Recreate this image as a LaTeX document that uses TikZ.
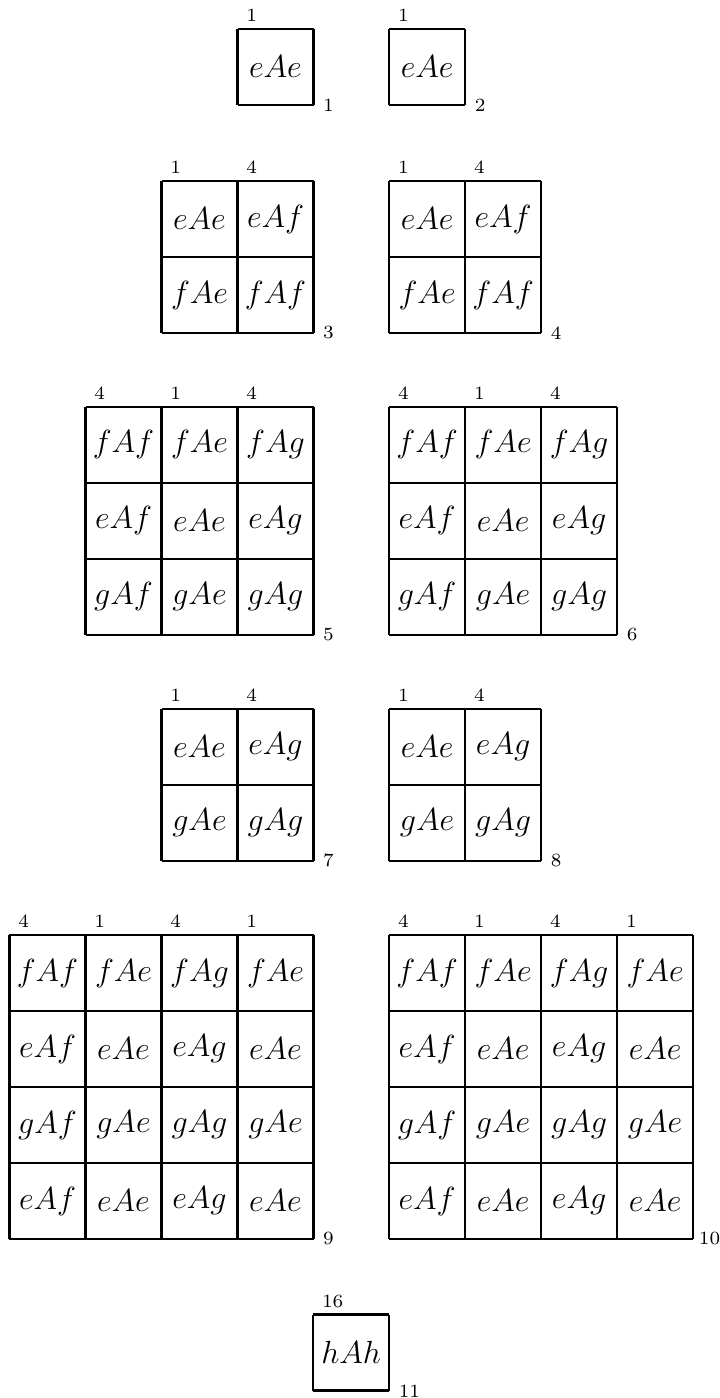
\documentclass[tikz,border=0pt]{standalone}
\usepackage{amsmath,amssymb}
\usepackage{tikz}
\tikzset{
  gridline/.style={line width=1pt},
  collabel/.style={anchor=south west, inner sep=0pt, font=\scriptsize},
  gridnum/.style={anchor=south west, inner sep=0pt, font=\scriptsize}
}

\begin{document}
\begin{tikzpicture}[font=\large]
  \useasboundingbox (0,0) rectangle (9.461,-18.395);

  % 1. single cell
  \begin{scope}[shift={(3.125,-0.382)}]
  \draw[gridline] (0,-1) grid (1,0);
  \node (a11) at (0.5,-0.5) {$eAe$};
  \node[collabel] (at1) at (0.11,0.09) {1};
  \node[gridnum] (an) at (1.12,-1.09) {1};
  \end{scope}

  % 2. single cell
  \begin{scope}[shift={(5.12,-0.382)}]
  \draw[gridline] (0,-1) grid (1,0);
  \node (b11) at (0.5,-0.5) {$eAe$};
  \node[collabel] (bt1) at (0.11,0.09) {1};
  \node[gridnum] (bn) at (1.12,-1.09) {2};
  \end{scope}

  % 3. 2x2 block e,f
  \begin{scope}[shift={(2.125,-2.382)}]
  \draw[gridline] (0,-2) grid (2,0);
  \node (c11) at (0.5,-0.5) {$eAe$}; \node (c12) at (1.5,-0.5) {$eAf$};
  \node (c21) at (0.5,-1.5) {$fAe$}; \node (c22) at (1.5,-1.5) {$fAf$};
  \node[collabel] (ct1) at (0.11,0.09) {1};
  \node[collabel] (ct2) at (1.11,0.09) {4};
  \node[gridnum] (cn) at (2.12,-2.09) {3};
  \end{scope}

  % 4. 2x2 block e,f
  \begin{scope}[shift={(5.12,-2.382)}]
  \draw[gridline] (0,-2) grid (2,0);
  \node (d11) at (0.5,-0.5) {$eAe$}; \node (d12) at (1.5,-0.5) {$eAf$};
  \node (d21) at (0.5,-1.5) {$fAe$}; \node (d22) at (1.5,-1.5) {$fAf$};
  \node[collabel] (dt1) at (0.11,0.09) {1};
  \node[collabel] (dt2) at (1.11,0.09) {4};
  \node[gridnum] (dn) at (2.12,-2.09) {4};
  \end{scope}

  % 5. 3x3 block f,e,g
  \begin{scope}[shift={(1.125,-5.355)}]
  \draw[gridline] (0,-3) grid (3,0);
  \node (e11) at (0.5,-0.5) {$fAf$}; \node (e12) at (1.5,-0.5) {$fAe$}; \node (e13) at (2.5,-0.5) {$fAg$};
  \node (e21) at (0.5,-1.5) {$eAf$}; \node (e22) at (1.5,-1.5) {$eAe$}; \node (e23) at (2.5,-1.5) {$eAg$};
  \node (e31) at (0.5,-2.5) {$gAf$}; \node (e32) at (1.5,-2.5) {$gAe$}; \node (e33) at (2.5,-2.5) {$gAg$};
  \node[collabel] (et1) at (0.11,0.09) {4};
  \node[collabel] (et2) at (1.11,0.09) {1};
  \node[collabel] (et3) at (2.11,0.09) {4};
  \node[gridnum] (en) at (3.12,-3.09) {5};
  \end{scope}

  % 6. 3x3 block f,e,g
  \begin{scope}[shift={(5.12,-5.355)}]
  \draw[gridline] (0,-3) grid (3,0);
  \node (f11) at (0.5,-0.5) {$fAf$}; \node (f12) at (1.5,-0.5) {$fAe$}; \node (f13) at (2.5,-0.5) {$fAg$};
  \node (f21) at (0.5,-1.5) {$eAf$}; \node (f22) at (1.5,-1.5) {$eAe$}; \node (f23) at (2.5,-1.5) {$eAg$};
  \node (f31) at (0.5,-2.5) {$gAf$}; \node (f32) at (1.5,-2.5) {$gAe$}; \node (f33) at (2.5,-2.5) {$gAg$};
  \node[collabel] (ft1) at (0.11,0.09) {4};
  \node[collabel] (ft2) at (1.11,0.09) {1};
  \node[collabel] (ft3) at (2.11,0.09) {4};
  \node[gridnum] (fn) at (3.12,-3.09) {6};
  \end{scope}

  % 7. 2x2 block e,g
  \begin{scope}[shift={(2.125,-9.329)}]
  \draw[gridline] (0,-2) grid (2,0);
  \node (g11) at (0.5,-0.5) {$eAe$}; \node (g12) at (1.5,-0.5) {$eAg$};
  \node (g21) at (0.5,-1.5) {$gAe$}; \node (g22) at (1.5,-1.5) {$gAg$};
  \node[collabel] (gt1) at (0.11,0.09) {1};
  \node[collabel] (gt2) at (1.11,0.09) {4};
  \node[gridnum] (gn) at (2.12,-2.09) {7};
  \end{scope}

  % 8. 2x2 block e,g
  \begin{scope}[shift={(5.12,-9.329)}]
  \draw[gridline] (0,-2) grid (2,0);
  \node (h11) at (0.5,-0.5) {$eAe$}; \node (h12) at (1.5,-0.5) {$eAg$};
  \node (h21) at (0.5,-1.5) {$gAe$}; \node (h22) at (1.5,-1.5) {$gAg$};
  \node[collabel] (ht1) at (0.11,0.09) {1};
  \node[collabel] (ht2) at (1.11,0.09) {4};
  \node[gridnum] (hn) at (2.12,-2.09) {8};
  \end{scope}

  % 9. 4x4 block f,e,g,e
  \begin{scope}[shift={(0.125,-12.303)}]
  \draw[gridline] (0,-4) grid (4,0);
  \node (i11) at (0.5,-0.5) {$fAf$}; \node (i12) at (1.5,-0.5) {$fAe$}; \node (i13) at (2.5,-0.5) {$fAg$}; \node (i14) at (3.5,-0.5) {$fAe$};
  \node (i21) at (0.5,-1.5) {$eAf$}; \node (i22) at (1.5,-1.5) {$eAe$}; \node (i23) at (2.5,-1.5) {$eAg$}; \node (i24) at (3.5,-1.5) {$eAe$};
  \node (i31) at (0.5,-2.5) {$gAf$}; \node (i32) at (1.5,-2.5) {$gAe$}; \node (i33) at (2.5,-2.5) {$gAg$}; \node (i34) at (3.5,-2.5) {$gAe$};
  \node (i41) at (0.5,-3.5) {$eAf$}; \node (i42) at (1.5,-3.5) {$eAe$}; \node (i43) at (2.5,-3.5) {$eAg$}; \node (i44) at (3.5,-3.5) {$eAe$};
  \node[collabel] (it1) at (0.11,0.09) {4};
  \node[collabel] (it2) at (1.11,0.09) {1};
  \node[collabel] (it3) at (2.11,0.09) {4};
  \node[collabel] (it4) at (3.11,0.09) {1};
  \node[gridnum] (in) at (4.12,-4.09) {9};
  \end{scope}

  % 10. 4x4 block f,e,g,e
  \begin{scope}[shift={(5.12,-12.303)}]
  \draw[gridline] (0,-4) grid (4,0);
  \node (j11) at (0.5,-0.5) {$fAf$}; \node (j12) at (1.5,-0.5) {$fAe$}; \node (j13) at (2.5,-0.5) {$fAg$}; \node (j14) at (3.5,-0.5) {$fAe$};
  \node (j21) at (0.5,-1.5) {$eAf$}; \node (j22) at (1.5,-1.5) {$eAe$}; \node (j23) at (2.5,-1.5) {$eAg$}; \node (j24) at (3.5,-1.5) {$eAe$};
  \node (j31) at (0.5,-2.5) {$gAf$}; \node (j32) at (1.5,-2.5) {$gAe$}; \node (j33) at (2.5,-2.5) {$gAg$}; \node (j34) at (3.5,-2.5) {$gAe$};
  \node (j41) at (0.5,-3.5) {$eAf$}; \node (j42) at (1.5,-3.5) {$eAe$}; \node (j43) at (2.5,-3.5) {$eAg$}; \node (j44) at (3.5,-3.5) {$eAe$};
  \node[collabel] (jt1) at (0.11,0.09) {4};
  \node[collabel] (jt2) at (1.11,0.09) {1};
  \node[collabel] (jt3) at (2.11,0.09) {4};
  \node[collabel] (jt4) at (3.11,0.09) {1};
  \node[gridnum] (jn) at (4.07,-4.09) {10};
  \end{scope}

  % 11. single cell h
  \begin{scope}[shift={(4.12,-17.30)}]
  \draw[gridline] (0,-1) grid (1,0);
  \node (k11) at (0.5,-0.5) {$hAh$};
  \node[collabel] (kt1) at (0.11,0.09) {16};
  \node[gridnum] (kn) at (1.12,-1.09) {11};
  \end{scope}
\end{tikzpicture}
\end{document}
